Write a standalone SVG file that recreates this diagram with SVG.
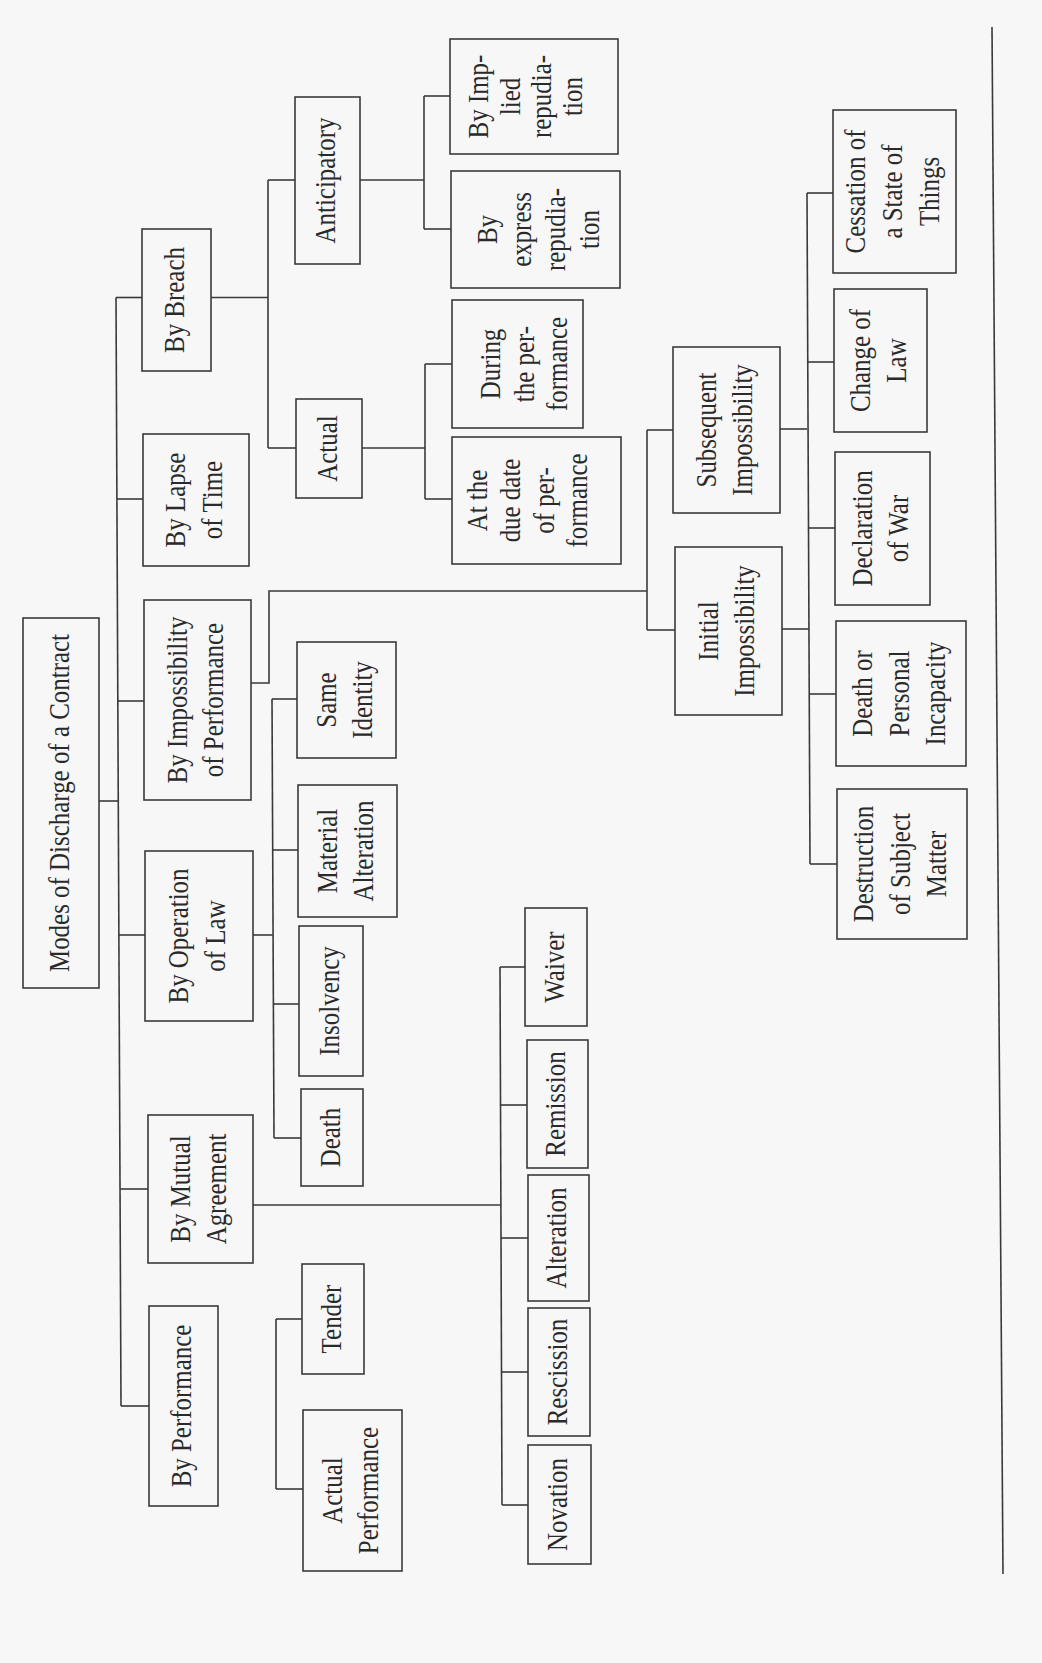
<svg xmlns="http://www.w3.org/2000/svg" width="1042" height="1663" viewBox="0 0 1042 1663">
<style>
.bg{fill:#f7f7f7}
.box{fill:none;stroke:#3a3a3a;stroke-width:1.6}
.ln{fill:none;stroke:#3a3a3a;stroke-width:1.6}
text{font-family:"Liberation Serif","Times New Roman",serif;font-size:29px;fill:#2a2a2a;text-anchor:middle}
</style>
<rect class="bg" width="1042" height="1663"/>
<g id="connectors" class="ln">
<path d="M116,297.5 L121,1406"/>
<path d="M116,297.5 H142"/>
<path d="M116.9,499 H143"/>
<path d="M117.8,701 H144"/>
<path d="M99,801 H118.3"/>
<path d="M118.9,935 H145"/>
<path d="M120,1189 H148"/>
<path d="M121,1406 H149"/>
<path d="M211,297.5 H268"/>
<path d="M268,180 V448"/>
<path d="M268,180 H295"/>
<path d="M268,448 H296"/>
<path d="M360,180 H424"/>
<path d="M424,96 V229"/>
<path d="M424,96 H450"/>
<path d="M424,229 H451"/>
<path d="M362,448 H425"/>
<path d="M425,364 V499"/>
<path d="M425,364 H452"/>
<path d="M425,499 H452"/>
<path d="M251,683 H269 V591 H647"/>
<path d="M647,430 V630"/>
<path d="M647,430 H673"/>
<path d="M647,630 H675"/>
<path d="M780,429 H807"/>
<path d="M782,629 H808.5"/>
<path d="M807,193 L810,864"/>
<path d="M807,193 H833"/>
<path d="M807.5,362 H834"/>
<path d="M808.5,528 H835"/>
<path d="M809,694 H836"/>
<path d="M810,864 H837"/>
<path d="M253,935 H272.6"/>
<path d="M272,699 L274,1138"/>
<path d="M272,699 H297"/>
<path d="M272.7,850 H298"/>
<path d="M273.4,1004 H299"/>
<path d="M274,1138 H301"/>
<path d="M253,1205 H500.9"/>
<path d="M500,967 L502,1505"/>
<path d="M500,967 H525"/>
<path d="M500.5,1105 H527"/>
<path d="M501,1238 H528"/>
<path d="M501.5,1372 H528"/>
<path d="M502,1505 H528"/>
<path d="M276,1319 V1489"/>
<path d="M276,1319 H302"/>
<path d="M276,1489 H303"/>
<path d="M992,27 L1003,1574"/>
</g>
<g id="modes"><rect class="box" x="23" y="618" width="76" height="370"/><text transform="translate(61,803) rotate(-90) scale(0.86,1)"><tspan x="0" y="7.5">Modes of Discharge of a Contract</tspan></text></g>
<g id="by-breach"><rect class="box" x="142" y="229" width="69" height="142"/><text transform="translate(176.5,300) rotate(-90) scale(0.86,1)"><tspan x="0" y="7.5">By Breach</tspan></text></g>
<g id="by-lapse"><rect class="box" x="143" y="434" width="106" height="132"/><text transform="translate(196,500) rotate(-90) scale(0.86,1)"><tspan x="0" y="-11">By Lapse</tspan><tspan x="0" y="26">of Time</tspan></text></g>
<g id="by-impossibility"><rect class="box" x="144" y="600" width="107" height="200"/><text transform="translate(197.5,700) rotate(-90) scale(0.86,1)"><tspan x="0" y="-11">By Impossibility</tspan><tspan x="0" y="26">of Performance</tspan></text></g>
<g id="by-operation"><rect class="box" x="145" y="851" width="108" height="170"/><text transform="translate(199,936) rotate(-90) scale(0.86,1)"><tspan x="0" y="-11">By Operation</tspan><tspan x="0" y="26">of Law</tspan></text></g>
<g id="by-mutual"><rect class="box" x="148" y="1115" width="105" height="148"/><text transform="translate(200.5,1189) rotate(-90) scale(0.86,1)"><tspan x="0" y="-11">By Mutual</tspan><tspan x="0" y="26">Agreement</tspan></text></g>
<g id="by-performance"><rect class="box" x="149" y="1306" width="69" height="200"/><text transform="translate(183.5,1406) rotate(-90) scale(0.86,1)"><tspan x="0" y="7.5">By Performance</tspan></text></g>
<g id="anticipatory"><rect class="box" x="295" y="97" width="65" height="167"/><text transform="translate(327.5,180.5) rotate(-90) scale(0.86,1)"><tspan x="0" y="7.5">Anticipatory</tspan></text></g>
<g id="actual"><rect class="box" x="296" y="399" width="66" height="99"/><text transform="translate(329,448.5) rotate(-90) scale(0.86,1)"><tspan x="0" y="7.5">Actual</tspan></text></g>
<g id="implied"><rect class="box" x="450" y="39" width="168" height="115"/><text transform="translate(534,96.5) rotate(-90) scale(0.86,1)"><tspan x="0" y="-46">By Imp-</tspan><tspan x="0" y="-14.5">lied</tspan><tspan x="0" y="17">repudia-</tspan><tspan x="0" y="48.5">tion</tspan></text></g>
<g id="express"><rect class="box" x="451" y="171" width="169" height="117"/><text transform="translate(535.5,229.5) rotate(-90) scale(0.86,1)"><tspan x="0" y="-38.5">By</tspan><tspan x="0" y="-4.5">express</tspan><tspan x="0" y="29.5">repudia-</tspan><tspan x="0" y="63.5">tion</tspan></text></g>
<g id="during"><rect class="box" x="452" y="300" width="131" height="128"/><text transform="translate(517.5,364) rotate(-90) scale(0.86,1)"><tspan x="0" y="-17.5">During</tspan><tspan x="0" y="16">the per-</tspan><tspan x="0" y="49.5">formance</tspan></text></g>
<g id="due-date"><rect class="box" x="452" y="437" width="169" height="127"/><text transform="translate(536.5,500.5) rotate(-90) scale(0.86,1)"><tspan x="0" y="-49.5">At the</tspan><tspan x="0" y="-16.5">due date</tspan><tspan x="0" y="17">of per-</tspan><tspan x="0" y="50.5">formance</tspan></text></g>
<g id="same-identity"><rect class="box" x="297" y="642" width="99" height="116"/><text transform="translate(346.5,700) rotate(-90) scale(0.86,1)"><tspan x="0" y="-11">Same</tspan><tspan x="0" y="26">Identity</tspan></text></g>
<g id="material-alteration"><rect class="box" x="298" y="785" width="99" height="132"/><text transform="translate(347.5,851) rotate(-90) scale(0.86,1)"><tspan x="0" y="-11">Material</tspan><tspan x="0" y="26">Alteration</tspan></text></g>
<g id="insolvency"><rect class="box" x="299" y="926" width="64" height="150"/><text transform="translate(331,1001) rotate(-90) scale(0.86,1)"><tspan x="0" y="7.5">Insolvency</tspan></text></g>
<g id="death"><rect class="box" x="301" y="1089" width="62" height="97"/><text transform="translate(332,1137.5) rotate(-90) scale(0.86,1)"><tspan x="0" y="7.5">Death</tspan></text></g>
<g id="tender"><rect class="box" x="302" y="1264" width="62" height="110"/><text transform="translate(333,1319) rotate(-90) scale(0.86,1)"><tspan x="0" y="7.5">Tender</tspan></text></g>
<g id="actual-performance"><rect class="box" x="303" y="1410" width="99" height="161"/><text transform="translate(352.5,1490.5) rotate(-90) scale(0.86,1)"><tspan x="0" y="-11">Actual</tspan><tspan x="0" y="26">Performance</tspan></text></g>
<g id="waiver"><rect class="box" x="525" y="908" width="62" height="118"/><text transform="translate(556,967) rotate(-90) scale(0.86,1)"><tspan x="0" y="7.5">Waiver</tspan></text></g>
<g id="remission"><rect class="box" x="527" y="1040" width="61" height="128"/><text transform="translate(557.5,1104) rotate(-90) scale(0.86,1)"><tspan x="0" y="7.5">Remission</tspan></text></g>
<g id="alteration"><rect class="box" x="528" y="1175" width="61" height="126"/><text transform="translate(558.5,1238) rotate(-90) scale(0.86,1)"><tspan x="0" y="7.5">Alteration</tspan></text></g>
<g id="rescission"><rect class="box" x="528" y="1308" width="62" height="128"/><text transform="translate(559,1372) rotate(-90) scale(0.86,1)"><tspan x="0" y="7.5">Rescission</tspan></text></g>
<g id="novation"><rect class="box" x="528" y="1445" width="63" height="119"/><text transform="translate(559.5,1504.5) rotate(-90) scale(0.86,1)"><tspan x="0" y="7.5">Novation</tspan></text></g>
<g id="subsequent"><rect class="box" x="673" y="347" width="107" height="166"/><text transform="translate(726.5,430) rotate(-90) scale(0.86,1)"><tspan x="0" y="-11">Subsequent</tspan><tspan x="0" y="26">Impossibility</tspan></text></g>
<g id="initial"><rect class="box" x="675" y="547" width="107" height="168"/><text transform="translate(728.5,631) rotate(-90) scale(0.86,1)"><tspan x="0" y="-11">Initial</tspan><tspan x="0" y="26">Impossibility</tspan></text></g>
<g id="cessation"><rect class="box" x="833" y="110" width="123" height="163"/><text transform="translate(894.5,191.5) rotate(-90) scale(0.86,1)"><tspan x="0" y="-29.5">Cessation of</tspan><tspan x="0" y="7.5">a State of</tspan><tspan x="0" y="44.5">Things</tspan></text></g>
<g id="change-of-law"><rect class="box" x="834" y="289" width="93" height="143"/><text transform="translate(880.5,360.5) rotate(-90) scale(0.86,1)"><tspan x="0" y="-11">Change of</tspan><tspan x="0" y="26">Law</tspan></text></g>
<g id="declaration"><rect class="box" x="835" y="452" width="95" height="153"/><text transform="translate(882.5,528.5) rotate(-90) scale(0.86,1)"><tspan x="0" y="-11">Declaration</tspan><tspan x="0" y="26">of War</tspan></text></g>
<g id="death-personal"><rect class="box" x="836" y="621" width="130" height="145"/><text transform="translate(901,693.5) rotate(-90) scale(0.86,1)"><tspan x="0" y="-29.5">Death or</tspan><tspan x="0" y="7.5">Personal</tspan><tspan x="0" y="44.5">Incapacity</tspan></text></g>
<g id="destruction"><rect class="box" x="837" y="789" width="130" height="150"/><text transform="translate(902,864) rotate(-90) scale(0.86,1)"><tspan x="0" y="-29.5">Destruction</tspan><tspan x="0" y="7.5">of Subject</tspan><tspan x="0" y="44.5">Matter</tspan></text></g>
</svg>
